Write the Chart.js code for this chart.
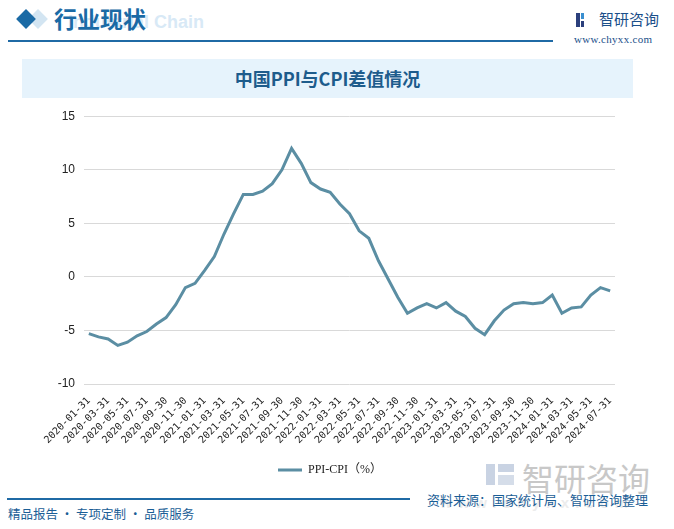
<!DOCTYPE html>
<html>
<head>
<meta charset="utf-8">
<script src="https://cdn.jsdelivr.net/npm/chart.js@4/dist/chart.umd.min.js"></script>
<style>
  html, body { margin: 0; padding: 0; }
  body { width: 674px; height: 529px; position: relative; background: #fff; overflow: hidden;
         font-family: "Noto Sans CJK SC", "Liberation Sans", sans-serif; }
  .abs { position: absolute; white-space: nowrap; }
  #chartBox { position: absolute; left: 0; top: 100px; width: 674px; height: 386px; }
</style>
</head>
<body>
<!-- header -->
<div class="abs" style="left:31px;top:12px;width:14px;height:14px;background:#d3e5f2;transform:rotate(45deg);"></div>
<div class="abs" style="left:19px;top:12px;width:14px;height:14px;background:#1a6aa5;transform:rotate(45deg);"></div>
<div class="abs" style="left:68px;top:12px;font:bold 18px 'Liberation Sans',Arial,sans-serif;color:#d8e9f6;">Industrial Chain</div>
<div class="abs" style="left:54px;top:2px;font-weight:bold;font-size:23px;color:#1a6aa5;line-height:32px;">行业现状</div>
<div class="abs" style="left:8px;top:40px;width:545px;height:2px;background:#1f6aa5;"></div>

<!-- top-right logo -->
<div class="abs" style="left:576px;top:13px;width:4px;height:14px;background:#2b3f7c;"></div>
<div class="abs" style="left:581px;top:13px;width:3px;height:6px;background:#3a8fd0;"></div>
<div class="abs" style="left:581px;top:21px;width:3px;height:6px;background:#2b3f7c;"></div>
<div class="abs" style="left:599px;top:9px;font-size:15px;line-height:20px;color:#1b4f8a;">智研咨询</div>
<div class="abs" style="left:574px;top:33px;font:11px 'Liberation Serif',serif;color:#1b4f8a;letter-spacing:0.3px;">www.chyxx.com</div>

<!-- title box -->
<div class="abs" style="left:22px;top:59px;width:611px;height:39px;background:#e6f3fc;"></div>
<div class="abs" style="left:22px;top:59px;width:611px;height:39px;line-height:39px;text-align:center;font-weight:bold;font-size:18px;color:#1d5c8c;">中国PPI与CPI差值情况</div>

<!-- watermark -->
<div class="abs" style="left:486px;top:464px;width:9px;height:21px;background:#c9d3e3;"></div>
<div class="abs" style="left:498px;top:464px;width:16px;height:8px;background:#c9d3e3;"></div>
<div class="abs" style="left:498px;top:475px;width:16px;height:10px;background:#d5dde9;"></div>
<div class="abs" style="left:522px;top:456px;font-size:32px;line-height:42px;color:#c8c8c8;">智研咨询</div>
<div class="abs" style="left:440px;top:494px;font:bold 15px 'Liberation Sans',sans-serif;color:#ececec;letter-spacing:6px;">www.chyxx.com</div>

<div id="chartBox"><canvas id="c"></canvas></div>

<!-- footer -->
<div class="abs" style="left:7px;top:498px;width:403px;height:1.5px;background:#1f6aa5;"></div>
<div class="abs" style="left:427px;top:491px;font-size:13px;line-height:18px;color:#1b5e96;">资料来源：国家统计局、智研咨询整理</div>
<div class="abs" style="left:8px;top:505px;font-size:12.5px;line-height:18px;color:#1b5e96;">精品报告 · 专项定制 · 品质服务</div>

<script>
// ---- data ----
const categories = [
  "2020-01-31","2020-02-29","2020-03-31","2020-04-30","2020-05-31","2020-06-30",
  "2020-07-31","2020-08-31","2020-09-30","2020-10-31","2020-11-30","2020-12-31",
  "2021-01-31","2021-02-28","2021-03-31","2021-04-30","2021-05-31","2021-06-30",
  "2021-07-31","2021-08-31","2021-09-30","2021-10-31","2021-11-30","2021-12-31",
  "2022-01-31","2022-02-28","2022-03-31","2022-04-30","2022-05-31","2022-06-30",
  "2022-07-31","2022-08-31","2022-09-30","2022-10-31","2022-11-30","2022-12-31",
  "2023-01-31","2023-02-28","2023-03-31","2023-04-30","2023-05-31","2023-06-30",
  "2023-07-31","2023-08-31","2023-09-30","2023-10-31","2023-11-30","2023-12-31",
  "2024-01-31","2024-02-29","2024-03-31","2024-04-30","2024-05-31","2024-06-30",
  "2024-07-31"
];
const ppiCpiDiff = [
  -5.3,-5.6,-5.8,-6.4,-6.1,-5.5,-5.1,-4.4,-3.8,-2.6,-1.0,-0.6,
   0.6, 1.9, 4.0, 5.9, 7.7, 7.7, 8.0, 8.7,10.0,12.0,10.6, 8.8,
   8.2, 7.9, 6.8, 5.9, 4.3, 3.6, 1.5,-0.2,-1.9,-3.4,-2.9,-2.5,
  -2.9,-2.4,-3.2,-3.7,-4.8,-5.4,-4.1,-3.1,-2.5,-2.4,-2.5,-2.4,
  -1.7,-3.4,-2.9,-2.8,-1.7,-1.0,-1.3
];
const seriesName = "PPI-CPI（%）";
const yTicks = [-10, -5, 0, 5, 10, 15];

const lineColor = "#5b8ea3";
const legendStartX = 278;

const shiftLegend = {
  id: 'shiftLegend',
  afterLayout(chart) {
    const lg = chart.legend;
    if (!lg || !lg.lineWidths) return;
    const pad = lg.options.labels.padding;
    const w = lg.lineWidths[0] - pad;
    const start = (lg.left + lg.right - w) / 2;
    const dx = legendStartX - start;
    lg.left += dx; lg.right += dx;
  }
};

new Chart(document.getElementById('c'), {
  type: 'line',
  data: {
    labels: categories,
    datasets: [{
      label: seriesName,
      data: ppiCpiDiff,
      borderColor: lineColor,
      backgroundColor: lineColor,
      borderWidth: 3,
      pointRadius: 0,
      tension: 0,
      fill: false
    }]
  },
  options: {
    responsive: true,
    maintainAspectRatio: false,
    animation: false,
    layout: { padding: { top: 13, right: 59, left: 0, bottom: 0 } },
    plugins: {
      tooltip: { enabled: false },
      legend: {
        position: 'bottom',
        labels: {
          boxWidth: 24,
          boxHeight: 3,
          padding: 10,
          color: '#222',
          font: { family: "'Liberation Serif', 'Noto Sans CJK SC', serif", size: 12 },
          generateLabels: (chart) =>
            Chart.defaults.plugins.legend.labels.generateLabels(chart)
              .map(l => Object.assign(l, { fillStyle: lineColor, lineWidth: 0 }))
        }
      }
    },
    scales: {
      x: {
        offset: true,
        grid: { display: false },
        border: { display: false },
        afterFit: (s) => { s.height = 70; },
        ticks: {
          autoSkip: false,
          maxRotation: 45,
          minRotation: 45,
          padding: 3,
          color: '#222',
          font: { family: "'DejaVu Sans Mono', monospace", size: 10 },
          callback: function(v, i) { return i % 2 === 0 ? categories[i] : ''; }
        }
      },
      y: {
        min: yTicks[0],
        max: yTicks[yTicks.length - 1],
        afterFit: (s) => { s.width = 84; },
        afterBuildTicks: (s) => { s.ticks = yTicks.map(v => ({ value: v })); },
        grid: { color: '#d9d9d9', lineWidth: 1, drawTicks: false },
        border: { display: false },
        ticks: {
          padding: 9,
          color: '#222',
          font: { family: "'Liberation Sans', sans-serif", size: 12 }
        }
      }
    }
  },
  plugins: [shiftLegend]
});
</script>
</body>
</html>
